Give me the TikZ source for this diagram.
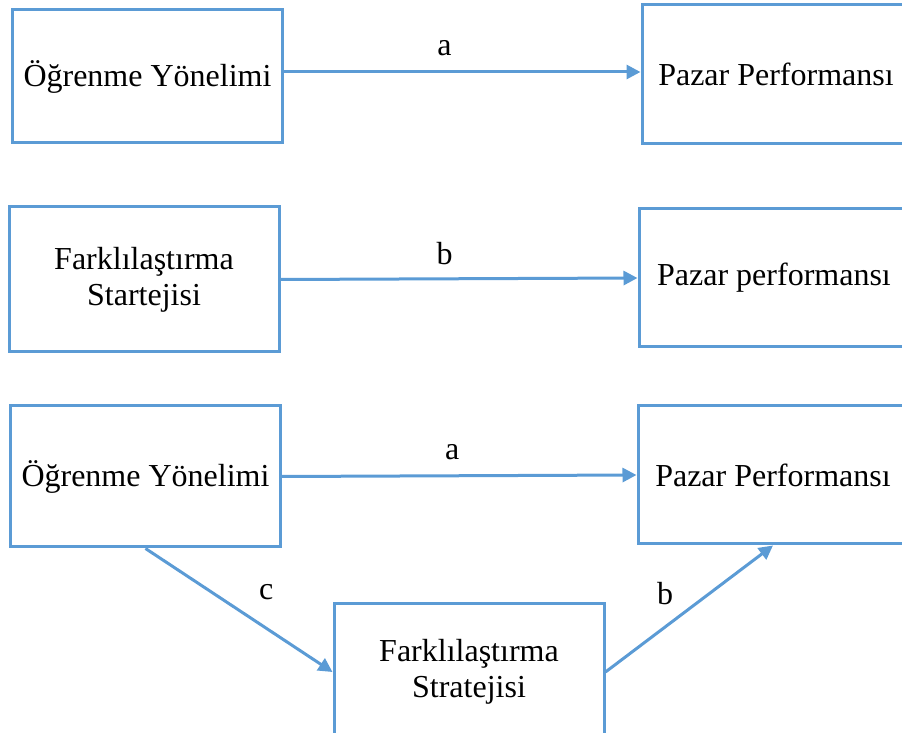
\documentclass[tikz,border=0pt]{standalone}
\usepackage{fontspec}
\setmainfont{Liberation Serif}
\usetikzlibrary{arrows.meta}
\definecolor{boxblue}{HTML}{5B9BD5}

\begin{document}
\begin{tikzpicture}[x=0.5pt, y=-0.5pt,
  kutu/.style={draw=boxblue, line width=1.5pt, rectangle, align=center,
    minimum width=135pt, font=\fontsize{16}{18}\selectfont},
  ok/.style={draw=boxblue, line width=1.5pt, -{Triangle[length=7pt,width=7pt]}},
  etiket/.style={font=\fontsize{16}{18}\selectfont}]
\useasboundingbox (0,0) rectangle (902,733);
% first model
\path (147.5,76.5) node[kutu, minimum height=66.5pt] (O1) {Öğrenme Yönelimi};
\path (776,74.5) node[kutu, minimum width=134pt, minimum height=69.5pt] (P1) {Pazar Performansı};
\draw[ok] (O1.east |- 0,72) -- (P1.west |- 0,72) node[etiket, pos=0.45, above=4pt] {a};
% second model
\path (144,279.5) node[kutu, minimum height=72.5pt] (F2) {Farklılaştırma\\Startejisi};
\path (774,278) node[kutu, minimum height=69pt] (P2) {Pazar performansı};
\draw[ok] (F2.east) -- (P2.west) node[etiket, pos=0.46, above=3pt] {b};
% mediation model
\path (145.5,476.5) node[kutu, minimum height=70.5pt] (O3) {Öğrenme Yönelimi};
\path (773,475) node[kutu, minimum height=69pt] (P3) {Pazar Performansı};
\path (469,672) node[kutu, minimum height=68pt] (F3) {Farklılaştırma\\Stratejisi};
\draw[ok] (O3.east) -- (P3.west) node[etiket, pos=0.48, above=4pt] {a};
\draw[ok] (O3.south) -- (F3.west) node[etiket, midway, above right=1pt, xshift=5pt] {c};
\draw[ok] (F3.east) -- (P3.south) node[etiket, midway, above left=1pt, xshift=-3pt, yshift=-3pt] {b};
\end{tikzpicture}
\end{document}
